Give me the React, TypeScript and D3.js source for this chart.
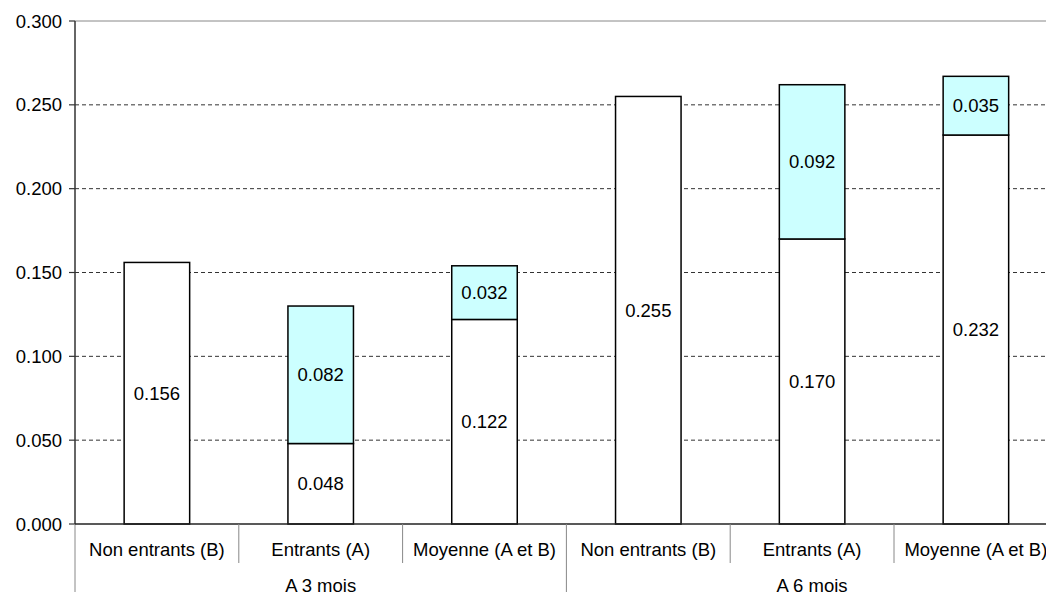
import React from "react";
import * as d3 from "d3";

const categories = [
  "Non entrants (B)",
  "Entrants (A)",
  "Moyenne (A et B)",
  "Non entrants (B)",
  "Entrants (A)",
  "Moyenne (A et B)",
];
const groups = ["A 3 mois", "A 6 mois"];
const baseValues = [0.156, 0.048, 0.122, 0.255, 0.17, 0.232];
const extraValues = [0, 0.082, 0.032, 0, 0.092, 0.035];
const yTicks = [0, 0.05, 0.1, 0.15, 0.2, 0.25, 0.3];

const W = 1046;
const H = 592;
const left = 75;
const right = 1057.8;
const top = 21;
const bottom = 524;
const font = "'Liberation Sans', Arial, sans-serif";
const fs = 18.5;

export default function App() {
  const idx = categories.map((_, i) => i);
  const x = d3
    .scaleBand<number>()
    .domain(idx)
    .range([left, right])
    .paddingInner(0.6)
    .paddingOuter(0.3);
  const slot = d3.scaleBand<number>().domain(idx).range([left, right]).padding(0);
  const y = d3.scaleLinear().domain([0, 0.3]).range([bottom, top]);

  const rows = idx.map((i) => ({ i, base: baseValues[i], extra: extraValues[i] }));
  const stacked = d3.stack<any>().keys(["base", "extra"])(rows);
  const fmt = d3.format(".3f");

  const groupX = (g: number) => {
    const a = slot(g * 3)!;
    const b = slot(g * 3 + 2)! + slot.bandwidth();
    return [a, b];
  };

  return (
    <div style={{ position: "fixed", left: 0, top: 0, width: W, height: H, background: "#fff" }}>
      <svg width={W} height={H} style={{ display: "block" }} fontFamily={font}>
        <rect x={0} y={0} width={W} height={H} fill="#fff" />
        {/* gridlines */}
        {yTicks.map((t) =>
          t === 0 ? null : (
            <line
              key={"g" + t}
              x1={left}
              x2={W}
              y1={y(t)}
              y2={y(t)}
              stroke={t === 0.3 ? "#888" : "#333"}
              strokeWidth={1}
              strokeDasharray={t === 0.3 ? undefined : "4,3"}
            />
          )
        )}
        {/* y ticks and labels */}
        {yTicks.map((t) => (
          <g key={"t" + t}>
            <line x1={69} x2={left} y1={y(t)} y2={y(t)} stroke="#333" strokeWidth={1.2} />
            <text
              x={62}
              y={y(t)}
              textAnchor="end"
              dominantBaseline="central"
              fontSize={fs}
              fill="#000"
            >
              {fmt(t)}
            </text>
          </g>
        ))}
        {/* bars */}
        {stacked.map((layer, li) =>
          layer.map((d, i) => {
            const v = d[1] - d[0];
            if (v <= 0) return null;
            const y0 = y(d[0]);
            const y1 = y(d[1]);
            return (
              <g key={li + "-" + i}>
                <rect
                  x={x(i)!}
                  y={y1}
                  width={x.bandwidth()}
                  height={y0 - y1}
                  fill={li === 0 ? "#ffffff" : "#ccffff"}
                  stroke="#000"
                  strokeWidth={1.5}
                />
                <text
                  x={x(i)! + x.bandwidth() / 2}
                  y={(y0 + y1) / 2}
                  textAnchor="middle"
                  dominantBaseline="central"
                  fontSize={fs}
                  fill="#000"
                >
                  {fmt(v)}
                </text>
              </g>
            );
          })
        )}
        {/* y axis */}
        <line x1={left} x2={left} y1={top} y2={bottom} stroke="#333" strokeWidth={1.5} />
        <line x1={left} x2={left} y1={bottom} y2={H} stroke="#888" strokeWidth={1} />
        {/* x axis */}
        <line x1={left} x2={W} y1={bottom} y2={bottom} stroke="#222" strokeWidth={1.5} />
        {/* category separators */}
        {idx.slice(1).map((i) => (
          <line
            key={"s" + i}
            x1={slot(i)!}
            x2={slot(i)!}
            y1={bottom}
            y2={i % 3 === 0 ? H : 563}
            stroke="#888"
            strokeWidth={1}
          />
        ))}
        {/* category labels */}
        {categories.map((c, i) => (
          <text
            key={"c" + i}
            x={slot(i)! + slot.bandwidth() / 2}
            y={549}
            textAnchor="middle"
            dominantBaseline="central"
            fontSize={fs}
            fill="#000"
          >
            {c}
          </text>
        ))}
        {groups.map((g, gi) => {
          const [a, b] = groupX(gi);
          return (
            <text
              key={"gr" + gi}
              x={(a + b) / 2}
              y={585}
              textAnchor="middle"
              dominantBaseline="central"
              fontSize={fs}
              fill="#000"
            >
              {g}
            </text>
          );
        })}
      </svg>
    </div>
  );
}
